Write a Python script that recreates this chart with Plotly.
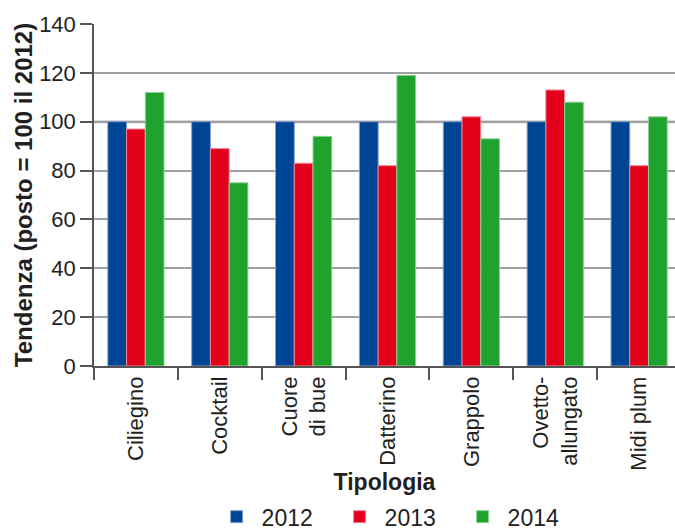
import plotly.graph_objects as go

categories = ["Ciliegino", "Cocktail", "Cuore<br>di bue", "Datterino", "Grappolo", "Ovetto-<br>allungato", "Midi plum"]
years = ["2012", "2013", "2014"]
values_2012 = [100, 100, 100, 100, 100, 100, 100]
values_2013 = [97, 89, 83, 82, 102, 113, 82]
values_2014 = [112, 75, 94, 119, 93, 108, 102]
y_ticks = [0, 20, 40, 60, 80, 100, 120, 140]
reference_level = 100

colors = ["#004494", "#e2001a", "#1fa22e"]
edge = ["#7f9fca", "#f08a96", "#8fd196"]
series = [values_2012, values_2013, values_2014]

fig = go.Figure()
for name, vals, c, e in zip(years, series, colors, edge):
    fig.add_trace(go.Bar(
        x=categories, y=vals, name=name,
        marker=dict(color=c, line=dict(color=e, width=1)),
    ))

font_main = "Liberation Sans, Arial, sans-serif"
txt = "#231f20"

fig.add_hline(y=reference_level, line=dict(color="#c8c8c8", width=3), layer="below")

fig.update_layout(
    width=675, height=530,
    margin=dict(l=94, r=0, t=24, b=164),
    paper_bgcolor="white", plot_bgcolor="white",
    barmode="group", bargap=0.33, bargroupgap=0,
    font=dict(family=font_main, size=22, color=txt),
    showlegend=True,
    legend=dict(
        orientation="h", x=0.52, xanchor="center",
        yref="container", y=0.025, yanchor="middle",
        font=dict(size=23, color=txt),
        itemwidth=40, entrywidth=68, tracegroupgap=0,
        bgcolor="rgba(0,0,0,0)",
    ),
    xaxis=dict(
        type="category",
        range=[-0.5, 6.428],
        tickson="boundaries",
        ticks="outside", ticklen=12, tickcolor="#555555", tickwidth=1.5,
        tickangle=-90,
        tickfont=dict(size=22, color=txt),
        showline=True, linecolor="#555555", linewidth=1.5,
        showgrid=False,
        title=dict(text="<b>Tipologia</b>", font=dict(size=23, color=txt), standoff=4),
    ),
    yaxis=dict(
        range=[0, 140],
        tickvals=y_ticks,
        ticks="outside", ticklen=12, tickcolor="#555555", tickwidth=1.5,
        tickfont=dict(size=22, color=txt),
        showline=True, linecolor="#555555", linewidth=1.5,
        showgrid=True, gridcolor="#a0a0a0", gridwidth=1.5,
        zeroline=False,
        title=dict(text="<b>Tendenza (posto = 100 il 2012)</b>", font=dict(size=24, color=txt), standoff=0),
    ),
)

fig.write_html("out.html")
